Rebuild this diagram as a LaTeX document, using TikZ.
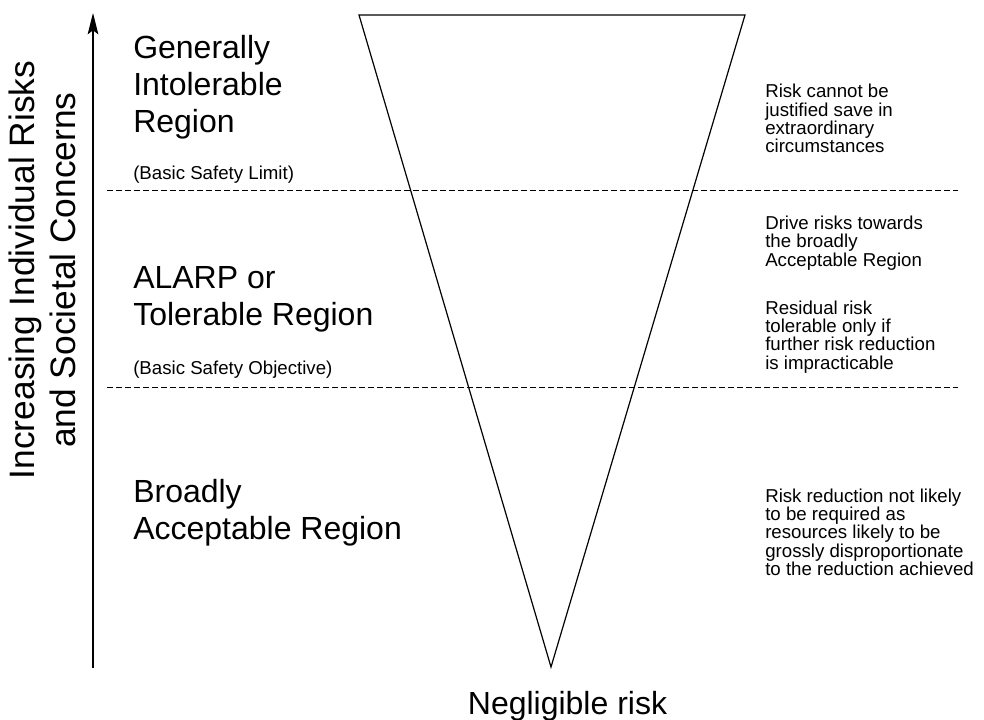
\documentclass[tikz,border=0pt]{standalone}
\usepackage{fontspec}
\setmainfont{Liberation Sans}
\usetikzlibrary{arrows.meta}
\begin{document}
\begin{tikzpicture}[x=0.75pt,y=-0.75pt,
  big/.style={font=\fontsize{24}{27.75}\selectfont, align=left, inner sep=0pt},
  axislbl/.style={font=\fontsize{26.5}{30.75}\selectfont, align=center, inner sep=0pt},
  small/.style={font=\fontsize{14}{13.75}\selectfont, align=left, inner sep=0pt},
  limit/.style={font=\fontsize{14}{13.75}\selectfont, inner sep=0pt},
  sep/.style={dashed, dash pattern=on 4.5pt off 2.25pt, line width=0.75pt},
  tri/.style={line width=0.9pt}]
\useasboundingbox (0,0) rectangle (984,720);
% triangle
\coordinate (tl) at (359,15);
\coordinate (tr) at (745,15);
\coordinate (bt) at (551,667);
\draw[tri, line join=miter] (tl) -- (tr) -- (bt) -- cycle;
% axis arrow
\coordinate (a0) at (93,668);
\coordinate (a1) at (93,13);
\draw[line width=1pt, -{Stealth[length=16pt, width=8pt, inset=3pt]}] (a0) -- (a1);
% dashed lines
\coordinate (d1l) at (107,191);
\coordinate (d1r) at (958,191);
\coordinate (d2l) at (107,387);
\coordinate (d2r) at (958,387);
\draw[sep] (d1l) -- (d1r);
\draw[sep] (d2l) -- (d2r);
% axis label
\node[axislbl, rotate=90] (axis) at (42,270) {Increasing Individual Risks\\and Societal Concerns};
% left regions
\node[big, anchor=west] (gen) at (133,87) {Generally\\Intolerable\\Region};
\node[limit, anchor=west] (bsl) at (133,175) {(Basic Safety Limit)};
\node[big, anchor=west] (alarp) at (133,299.5) {ALARP or\\Tolerable Region};
\node[limit, anchor=west] (bso) at (133,370) {(Basic Safety Objective)};
\node[big, anchor=west] (broad) at (133,512.5) {Broadly\\Acceptable Region};
\node[big, anchor=base] (negl) at (567.5,714) {Negligible risk};
% right descriptions
\node[small, anchor=west] (r1) at (765,118.5) {Risk cannot be\\justified save in\\extraordinary\\circumstances};
\node[small, anchor=west] (r2) at (765,243) {Drive risks towards\\the broadly\\Acceptable Region};
\node[small, anchor=west] (r3) at (765,337) {Residual risk\\tolerable only if\\further risk reduction\\is impracticable};
\node[small, anchor=west] (r4) at (765,532) {Risk reduction not likely\\to be required as\\resources likely to be\\grossly disproportionate\\to the reduction achieved};
\end{tikzpicture}
\end{document}
